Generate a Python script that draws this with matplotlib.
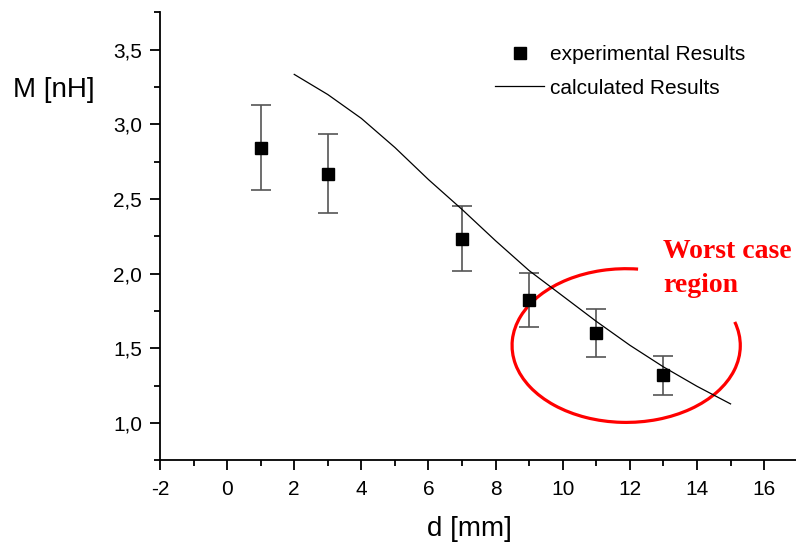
import matplotlib
matplotlib.use("Agg")
import matplotlib.pyplot as plt
from matplotlib.patches import Arc
from matplotlib.ticker import MultipleLocator, FuncFormatter

# measured points
d_exp = [1, 3, 7, 9, 11, 13]
m_exp = [2.845, 2.67, 2.235, 1.825, 1.6, 1.318]
m_err = [0.285, 0.265, 0.22, 0.18, 0.16, 0.13]

# calculated curve
d_calc = [2, 3, 4, 5, 6, 7, 8, 9, 10, 11, 12, 13, 14, 15]
m_calc = [3.335, 3.2, 3.04, 2.845, 2.63, 2.43, 2.22, 2.02, 1.85, 1.68, 1.52, 1.375, 1.245, 1.127]

plt.rcParams['font.family'] = ['Liberation Sans', 'DejaVu Sans']
plt.rcParams['axes.unicode_minus'] = False

fig = plt.figure(figsize=(7.96, 5.42), dpi=100)
ax = fig.add_axes([0.201, 0.151, 0.799, 0.826])

ax.errorbar(d_exp, m_exp, yerr=m_err, fmt='none', ecolor='#555555',
            elinewidth=1.2, capsize=7, capthick=1.2)
ax.plot(d_exp, m_exp, 's', color='black', markersize=8.5, label='experimental Results')
ax.plot(d_calc, m_calc, '-', color='black', linewidth=0.9, label='calculated Results')

# red "worst case" ellipse, open at the upper right
arc = Arc((11.89, 1.518), 6.8, 1.03, theta1=55.3, theta2=362.8,
          color='red', linewidth=2.3)
ax.add_patch(arc)
ax.text(13.0, 2.23, 'Worst case\nregion', color='red', fontsize=20,
        fontweight='bold', family=['Liberation Serif', 'DejaVu Serif'],
        linespacing=1.45, va='top', ha='left')

ax.set_xlim(-2, 16.95)
ax.set_ylim(0.75, 3.75)
ax.xaxis.set_major_locator(MultipleLocator(2))
ax.xaxis.set_minor_locator(MultipleLocator(1))
ax.yaxis.set_major_locator(MultipleLocator(0.5))
ax.yaxis.set_minor_locator(MultipleLocator(0.25))
ax.yaxis.set_major_formatter(FuncFormatter(
    lambda v, p: '' if v < 0.9 else ('%.1f' % v).replace('.', ',')))

for s in ['top', 'right']:
    ax.spines[s].set_visible(False)
for s in ['left', 'bottom']:
    ax.spines[s].set_linewidth(1.3)
ax.tick_params(which='major', length=7, width=1.3, labelsize=15, direction='out')
ax.tick_params(which='minor', length=4, width=1.3, direction='out')
ax.tick_params(axis='x', which='major', pad=7)
ax.tick_params(axis='y', which='major', pad=6)

ax.set_xlabel('d [mm]', fontsize=20)
ax.xaxis.set_label_coords(0.487, -0.125)
fig.text(0.016, 0.821, 'M [nH]', fontsize=20)

ax.legend(loc='upper left', bbox_to_anchor=(0.498, 0.969), frameon=False,
          fontsize=15, handlelength=2.33, handletextpad=0.3, labelspacing=0.7)

fig.savefig('out.png', dpi=100)
